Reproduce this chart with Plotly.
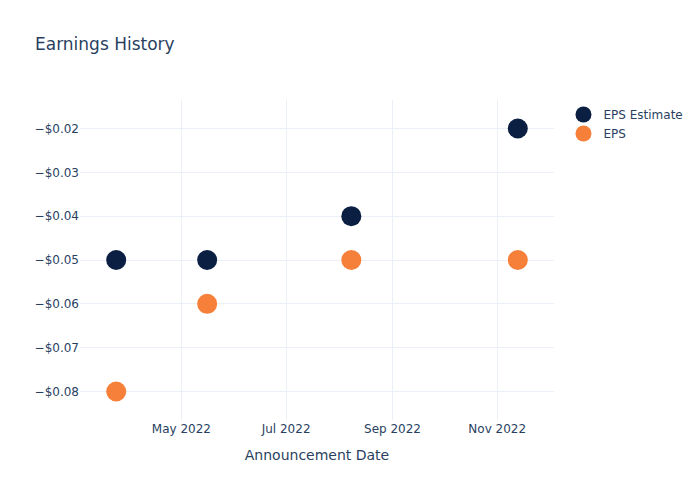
import plotly.graph_objects as go

dates = ["2022-03-24", "2022-05-16", "2022-08-08", "2022-11-13"]
eps_estimate = [-0.05, -0.05, -0.04, -0.02]
eps_actual = [-0.08, -0.06, -0.05, -0.05]

fig = go.Figure()
fig.add_trace(go.Scatter(x=dates, y=eps_estimate, mode="markers", name="EPS Estimate",
                         marker=dict(color="#0b1f42", size=20)))
fig.add_trace(go.Scatter(x=dates, y=eps_actual, mode="markers", name="EPS",
                         marker=dict(color="#f6803a", size=20)))
fig.update_layout(
    template="plotly_white",
    width=700, height=500,
    title=dict(text="Earnings History"),
    font=dict(family="DejaVu Sans"),
    xaxis=dict(title=dict(text="Announcement Date")),
    yaxis=dict(tickformat="$.2f"),
)
fig.write_html("out.html")
